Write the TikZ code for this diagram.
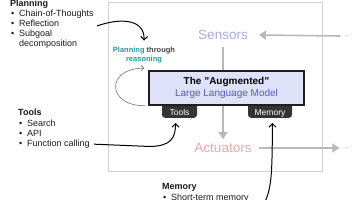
\documentclass[tikz,border=0pt]{standalone}
\usepackage{fontspec}
\setmainfont{Liberation Sans}
\usetikzlibrary{arrows.meta}
\definecolor{sensorcol}{RGB}{170,172,226}
\definecolor{actcol}{RGB}{234,168,168}
\definecolor{llmblue}{RGB}{88,90,204}
\definecolor{llmfill}{RGB}{222,225,247}
\definecolor{tealc}{RGB}{32,152,162}
\definecolor{throughc}{RGB}{70,70,70}
\definecolor{arrowgray}{RGB}{184,184,184}
\definecolor{boxgray}{RGB}{208,208,208}
\definecolor{tabdark}{RGB}{52,52,52}
\begin{document}
\begin{tikzpicture}[x=1pt,y=-1pt,
  txt/.style={font=\fontsize{9}{10}\selectfont, inner sep=0pt, anchor=base west, text=black!90},
  ttl/.style={txt, font=\bfseries\fontsize{9}{10}\selectfont},
  bul/.style={txt},
  grayarrow/.style={draw=arrowgray, line width=1.6pt, -{Triangle[length=7pt,width=9pt]}},
  blackarrow/.style={draw=black, line width=1pt, -{Straight Barb[length=3.5pt,width=7pt]}},
  loopline/.style={draw=black!55, line width=0.6pt, -{Straight Barb[length=3pt,width=6pt]}},
  bigword/.style={font=\fontsize{13.5}{14}\selectfont, inner sep=2pt},
  dots/.style={font=\fontsize{6}{6}\selectfont, text=black!45, inner sep=0pt},
  tab/.style={fill=tabdark, rounded corners=3pt, text=white, font=\fontsize{8.5}{9}\selectfont,
              inner xsep=0pt, inner ysep=0pt, text height=17.5pt, text depth=2.5pt, anchor=south}
]
\useasboundingbox (0,0) rectangle (356,200);
\clip (0,0) rectangle (356,200);

% environment box
\node[draw=boxgray, line width=1pt, minimum width=214pt, minimum height=169pt, anchor=north west, inner sep=0pt] (env) at (108,2) {};

% sensors / actuators
\node[bigword, text=sensorcol] (sens) at (223,35) {Sensors};
\node[bigword, text=actcol] (act) at (223,148) {Actuators};
\node[dots] (sdots) at (347,36) {...};
\node[dots] (adots) at (347,148) {...};

\draw[grayarrow] ([xshift=-4pt]sdots.west) -- ([xshift=9pt]sens.east);
\draw[grayarrow, shorten <=5pt, shorten >=2pt] (sens.south) -- (act.north);
\draw[grayarrow, shorten <=5pt] (act.east) -- ([xshift=-5pt]adots.west);

% tabs
\node[tab, minimum width=35pt] (tools) at (179.5,118) {Tools};
\node[tab, minimum width=44pt] (mem) at (270,118) {Memory};

% LLM box
\node[draw=black!88, line width=1.5pt, fill=llmfill, minimum width=155pt, minimum height=34pt,
      align=center, font=\fontsize{10}{12}\selectfont, inner sep=0pt] (llm) at (226.5,88)
  {{\bfseries The "Augmented"}\\{\color{llmblue}Large Language Model}};

% planning through reasoning
\node[align=center, font=\bfseries\fontsize{7.5}{9.5}\selectfont, inner sep=0pt] (ptr) at (144,55)
  {{\color{tealc}Planning} {\color{throughc}through}\\{\color{tealc}reasoning}};

% self loop
\draw[loopline] ([xshift=-3pt]llm.south west) .. controls (106,106) and (106,68) .. ([xshift=-4pt,yshift=2pt]llm.north west);

% planning list
\node[ttl] (pt) at (10,6.5) {Planning};
\node[bul] (pb1) at (11,17) {•}; \node[txt] (p1) at (19,17) {Chain-of-Thoughts};
\node[bul] (pb2) at (11,27) {•}; \node[txt] (p2) at (19,27) {Reflection};
\node[bul] (pb3) at (11,37) {•}; \node[txt] (p3) at (19,37) {Subgoal};
\node[txt] (p4) at (19,47) {decomposition};

% tools list
\node[ttl] (tt) at (18,115.5) {Tools};
\node[bul] (tb1) at (19,127) {•}; \node[txt] (t1) at (27,127) {Search};
\node[bul] (tb2) at (19,137) {•}; \node[txt] (t2) at (27,137) {API};
\node[bul] (tb3) at (19,147) {•}; \node[txt] (t3) at (27,147) {Function calling};

% memory list
\node[ttl] (mt) at (162,190) {Memory};
\node[bul] (mb1) at (163,201) {•}; \node[txt] (m1) at (171,201) {Short-term memory};

% black arrows
\coordinate (pstart) at (97,26);
\draw[blackarrow] (pstart) .. controls (122,17) and (145,20) .. ([yshift=6pt]ptr.north);
\draw[blackarrow] ([xshift=4pt,yshift=0.5pt]t3.east) -- (150,146.5) .. controls (171,146) and (175.5,138) .. ([xshift=-4pt,yshift=-5pt]tools.south);
\coordinate (mstart) at (265,202);
\draw[blackarrow] (mstart) .. controls (272,186) and (272,172) .. ([xshift=2.5pt,yshift=-5pt]mem.south);
\end{tikzpicture}
\end{document}
